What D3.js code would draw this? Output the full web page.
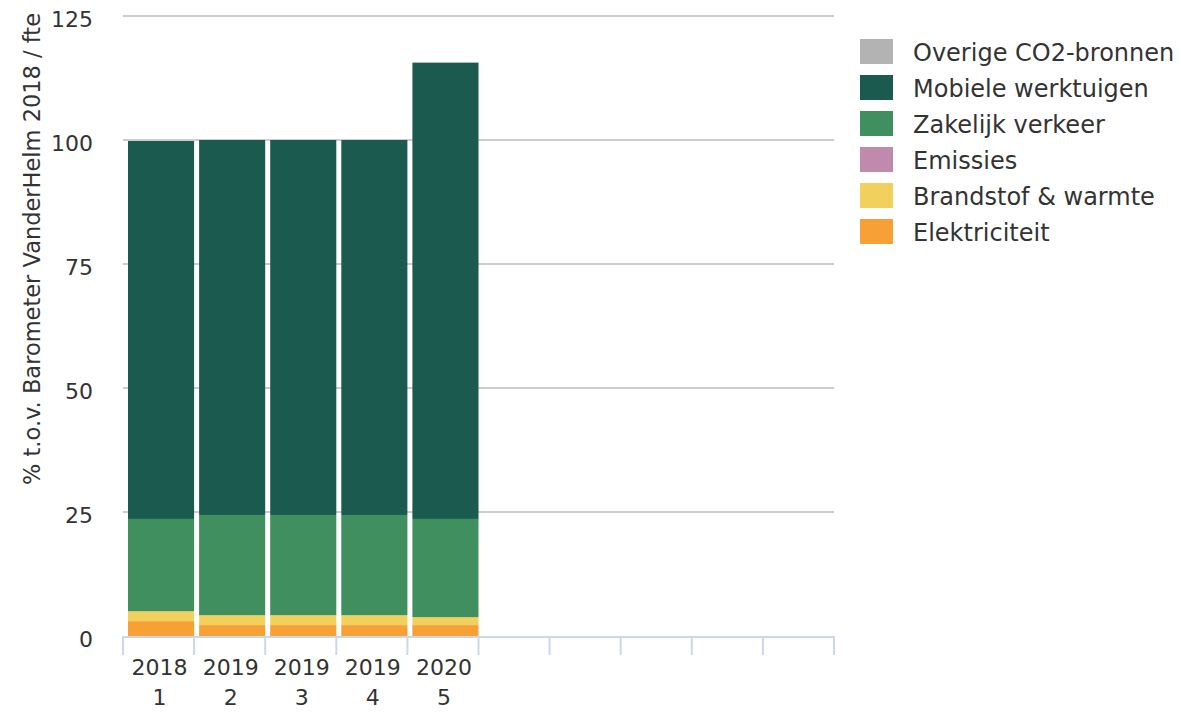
<!DOCTYPE html>
<html>
<head>
<meta charset="utf-8">
<script src="https://cdn.jsdelivr.net/npm/d3@7/dist/d3.min.js"></script>
<style>
    body { margin: 0; background: #fff; }
    svg text { font-family: "DejaVu Sans", sans-serif; fill: #333; }
</style>
</head>
<body>
<div id="chart"></div>
<script>
    // categories (5 filled, 5 empty slots on the axis)
    var categories = ['2018|1', '2019|2', '2019|3', '2019|4', '2020|5', 'e6', 'e7', 'e8', 'e9', 'e10'];

    var seriesNames = ['Elektriciteit', 'Brandstof & warmte', 'Emissies', 'Zakelijk verkeer', 'Mobiele werktuigen', 'Overige CO2-bronnen'];
    var seriesColors = ['#f7a035', '#f2d05e', '#c08aad', '#3f8f5f', '#1b5a4f', '#b3b3b3'];

    var elektriciteit = [3.0, 2.2, 2.2, 2.2, 2.2];
    var brandstof = [2.0, 2.0, 2.0, 2.0, 1.6];
    var emissies = [0, 0, 0, 0, 0];
    var zakelijk = [18.6, 20.2, 20.2, 20.2, 19.8];
    var mobiele = [76.2, 75.6, 75.6, 75.6, 92.0];
    var overige = [0, 0, 0, 0, 0];

    var yTicks = [0, 25, 50, 75, 100, 125];

    var width = 1180, height = 712;
    var plotLeft = 123, plotRight = 834, plotTop = 16, plotBottom = 636;

    var svg = d3.select('#chart')
        .append('svg')
        .attr('width', width)
        .attr('height', height);

    var x = d3.scaleBand().domain(categories).range([plotLeft, plotRight]);
    var y = d3.scaleLinear().domain([0, 125]).range([plotBottom, plotTop]);

    // grid
    svg.append('g')
        .selectAll('line')
        .data(yTicks.filter(function (d) { return d > 0; }))
        .enter()
        .append('line')
        .attr('x1', plotLeft)
        .attr('x2', plotRight)
        .attr('y1', function (d) { return y(d); })
        .attr('y2', function (d) { return y(d); })
        .attr('stroke', '#cccccc')
        .attr('stroke-width', 2);

    // y tick labels
    svg.append('g')
        .selectAll('text')
        .data(yTicks)
        .enter()
        .append('text')
        .attr('x', 93)
        .attr('y', function (d) { return y(d) + 11; })
        .attr('text-anchor', 'end')
        .style('font-size', '22px')
        .text(function (d) { return d; });

    svg.append('text')
        .attr('transform', 'translate(40,249) rotate(-90)')
        .attr('text-anchor', 'middle')
        .style('font-size', '22.5px')
        .text('% t.o.v. Barometer VanderHelm 2018 / fte');

    // stacked bars
    var rows = categories.slice(0, 5).map(function (c, i) {
        return {
            cat: c,
            s0: elektriciteit[i], s1: brandstof[i], s2: emissies[i],
            s3: zakelijk[i], s4: mobiele[i], s5: overige[i]
        };
    });
    var stack = d3.stack().keys(['s0', 's1', 's2', 's3', 's4', 's5']);
    var layers = stack(rows);

    svg.append('g')
        .selectAll('g')
        .data(layers)
        .enter()
        .append('g')
        .attr('fill', function (d, i) { return seriesColors[i]; })
        .selectAll('rect')
        .data(function (d) { return d; })
        .enter()
        .append('rect')
        .attr('x', function (d) { return x(d.data.cat) + 5; })
        .attr('width', x.bandwidth() - 5)
        .attr('y', function (d) { return y(d[1]); })
        .attr('height', function (d) { return Math.max(0, y(d[0]) - y(d[1])); });

    // x axis
    var xAxis = svg.append('g');
    xAxis.append('line')
        .attr('x1', plotLeft).attr('x2', plotRight)
        .attr('y1', plotBottom + 1).attr('y2', plotBottom + 1)
        .attr('stroke', '#ccd6eb').attr('stroke-width', 2);

    var edges = categories.map(function (c) { return x(c); }).concat([plotRight]);
    xAxis.selectAll('line.tick')
        .data(edges)
        .enter()
        .append('line')
        .attr('class', 'tick')
        .attr('x1', function (d) { return d; })
        .attr('x2', function (d) { return d; })
        .attr('y1', plotBottom)
        .attr('y2', plotBottom + 19)
        .attr('stroke', '#ccd6eb')
        .attr('stroke-width', 2);

    var labels = xAxis.selectAll('text')
        .data(categories.slice(0, 5))
        .enter()
        .append('text')
        .attr('text-anchor', 'middle')
        .style('font-size', '22px');
    labels.append('tspan')
        .attr('x', function (d) { return x(d) + x.bandwidth() / 2 + 1; })
        .attr('y', 675)
        .text(function (d) { return d.split('|')[0]; });
    labels.append('tspan')
        .attr('x', function (d) { return x(d) + x.bandwidth() / 2 + 1; })
        .attr('y', 705)
        .text(function (d) { return d.split('|')[1]; });

    // legend
    var legendNames = seriesNames.slice().reverse();
    var legendColors = seriesColors.slice().reverse();
    var legend = svg.append('g')
        .selectAll('g')
        .data(legendNames)
        .enter()
        .append('g')
        .attr('transform', function (d, i) { return 'translate(860,' + (39 + i * 36) + ')'; });
    legend.append('rect')
        .attr('width', 33)
        .attr('height', 25)
        .attr('fill', function (d, i) { return legendColors[i]; });
    legend.append('text')
        .attr('x', 53)
        .attr('y', 22)
        .style('font-size', '24px')
        .text(function (d) { return d; });
</script>
</body>
</html>
